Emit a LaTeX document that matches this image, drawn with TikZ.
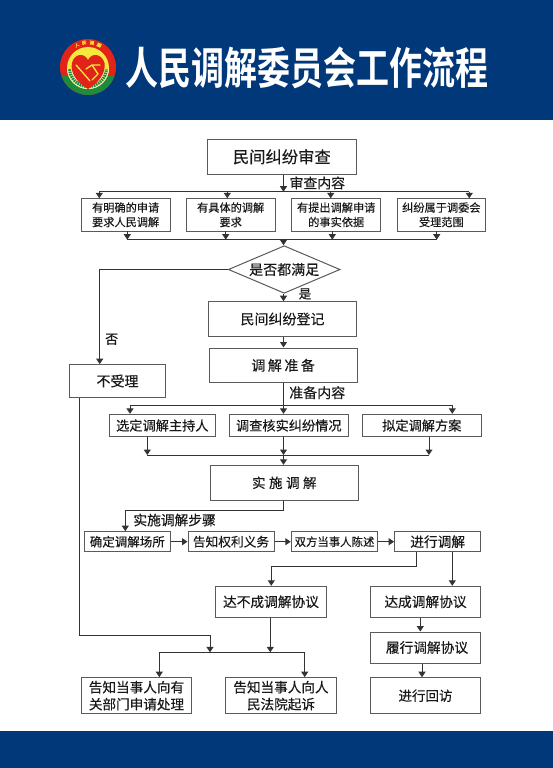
\documentclass[tikz,border=0pt]{standalone}
\usepackage{fontspec}
\setmainfont{Noto Sans CJK SC}[FakeBold=0.25]
\newfontfamily\titlefont{Noto Sans CJK SC Bold}
\usetikzlibrary{arrows.meta,shapes.geometric}
\definecolor{band}{HTML}{00387A}
\definecolor{edge}{HTML}{5A5A5A}
\definecolor{lred}{HTML}{E2231A}
\definecolor{lgreen}{HTML}{1F8A3C}
\definecolor{lyellow}{HTML}{F6E73C}
\tikzset{
  bx/.style={draw=edge,line width=1pt,fill=white,inner sep=0pt,align=center,text=black!90},
  ln/.style={draw=black!80,line width=1pt},
  ar/.style={ln,-{Triangle[length=5.5pt,width=7pt]}},
  lab/.style={inner sep=0pt,text=black!90},
}
\newcommand{\fs}[2]{\fontsize{#1}{#2}\selectfont}
% name, x1,y1,x2,y2, size, line height, text
\newcommand{\boxat}[8]{%
  \node[bx,font=\fs{#6}{#7},minimum width={#4-#2},minimum height={#5-#3}] (#1) at ({(#2+#4)/2},{(#3+#5)/2}) {#8};}
\begin{document}
\begin{tikzpicture}[x=1pt,y=-1pt]
\useasboundingbox (0,0) rectangle (553,768);
\fill[white] (0,0) rectangle (553,768);
\fill[band] (0,0) rectangle (553,119.5);
\fill[band] (0,731) rectangle (553,768);
% logo
\fill[lred] (88,67) circle (28);
\begin{scope}
\clip (58,76) rectangle (118,97);
\fill[lgreen] (88,67) circle (28);
\end{scope}
\fill[lyellow] (88,68) circle (21);
\begin{scope}
\clip (58,70) rectangle (118,97);
\fill[white!60!lyellow] (88,68) circle (21);
\draw[lgreen,line width=3pt,dash pattern=on 1.6pt off .8pt] (88,68) circle (18.5);
\end{scope}
\fill[lred] (88,89) .. controls (76,82) and (70,72) .. (72,63) .. controls (74,54) and (84,52) .. (88,60) .. controls (92,52) and (102,54) .. (104.5,63) .. controls (106,72) and (100,82) .. (88,89) -- cycle;
\draw[lyellow,line width=1.3pt,line cap=round,line join=round] (76,65) -- (84,74) -- (90,81) (100,65) -- (92,65) -- (86,69) (92,65) -- (98,74) -- (92,80);
\foreach \c/\a in {人/117,民/99,调/81,解/63}
  \node[inner sep=0pt,text=lyellow,font=\fs{4.5}{5},rotate=\a-90] (logo\a) at ({88+24.5*cos(\a)},{67-24.5*sin(\a)}) {\c};
% title
\node[inner sep=0pt,text=white,font=\titlefont\fs{44}{44},xscale=.75] (title) at (307,67.5) {人民调解委员会工作流程};
% boxes
\boxat{a}{207.7}{139.3}{356}{174.3}{16.3}{18}{民间纠纷审查}
\boxat{b1}{81.3}{198.3}{170}{231.3}{11.2}{14.5}{有明确的申请\\要求人民调解}
\boxat{b2}{186.3}{198.3}{275}{231.3}{11.2}{14.5}{有具体的调解\\要求}
\boxat{b3}{291.7}{198.3}{380.7}{231.3}{11.2}{14.5}{有提出调解申请\\的事实依据}
\boxat{b4}{397}{198.3}{485.7}{231.3}{11.2}{14.5}{纠纷属于调委会\\受理范围}
\node[diamond,aspect=2.34,draw=edge,line width=1pt,fill=white,inner sep=0pt,minimum width=111.7pt,minimum height=47.6pt,text=black!90,font=\fs{14}{16}] (d) at (284.2,269.5) {是否都满足};
\boxat{c}{208.3}{301.7}{356.7}{336.3}{14}{16}{民间纠纷登记}
\boxat{e}{209}{348}{357.3}{382.7}{14}{16}{调\hspace{2.5pt}解\hspace{2.5pt}准\hspace{2.5pt}备}
\boxat{no}{69.3}{364.7}{165.7}{397.3}{14}{16}{不受理}
\boxat{f1}{109.7}{414.3}{215}{436.7}{13.2}{16}{选定调解主持人}
\boxat{f2}{229.3}{414.3}{348.3}{436.7}{13.2}{16}{调查核实纠纷情况}
\boxat{f3}{362.3}{414.3}{481.3}{436.7}{13.2}{16}{拟定调解方案}
\boxat{g}{210.3}{465.3}{358.3}{500.3}{13.5}{16}{实\hspace{3.5pt}施\hspace{3.5pt}调\hspace{3.5pt}解}
\boxat{h1}{84.3}{531.7}{170.3}{551.7}{12.5}{16}{确定调解场所}
\boxat{h2}{188}{531.7}{274}{551.7}{12.7}{16}{告知权利义务}
\boxat{h3}{291.3}{531.7}{377.7}{551.7}{11.4}{16}{双方当事人陈述}
\boxat{h4}{394.7}{531.7}{480.7}{551.7}{13.7}{16}{进行调解}
\boxat{i1}{215.7}{586.3}{326.3}{617.3}{13.7}{16}{达不成调解协议}
\boxat{i2}{370.3}{586.3}{480.7}{617.3}{13.7}{16}{达成调解协议}
\boxat{j}{370.3}{632}{480.7}{663}{13.7}{16}{\hspace{3pt}履行调解协议}
\boxat{k1}{81.3}{677.7}{191.7}{713.7}{13.6}{17}{告知当事人向有\\关部门申请处理}
\boxat{k2}{225.7}{677.7}{336.3}{713.7}{13.6}{17}{告知当事人向人\\民法院起诉}
\boxat{k3}{370.3}{677.7}{480.7}{713.7}{13.5}{16}{进行回访}
% labels
\node[lab,anchor=west,font=\fs{13.9}{16}] (t1) at (289.3,183) {审查内容};
\node[lab,font=\fs{12.5}{14}] (t2) at (305,294) {是};
\node[lab,font=\fs{13}{14}] (t3) at (111.7,339.3) {否};
\node[lab,anchor=west,font=\fs{14}{16}] (t4) at (289,392.7) {准备内容};
\node[lab,anchor=west,font=\fs{13.7}{16}] (t5) at (133.3,520) {实施调解步骤};
% junctions
\coordinate (top1) at (283.5,191.7);
\draw[ar] (a.south -| top1) -- (top1);
\draw[ln] (99.3,191.7) -- (469.3,191.7);
\foreach \x in {99.3,227.3,330.7,469.3} \draw[ar] (\x,191.7) -- (\x,198.3);
\foreach \x in {127.3,225.7,332.3,436.7} \draw[ar] (\x,231.3) -- (\x,239.7);
\draw[ln] (127.3,239.7) -- (436.7,239.7);
\draw[ar] (283.5,239.7) -- (d.north -| 283.5,0);
\draw[ar] (d.south -| 283.5,0) -- (c.north -| 283.5,0);
\draw[ar] (d.west) -| (no.north -| 99.7,0);
\draw[ar] (c.south -| 283.5,0) -- (e.north -| 283.5,0);
\draw[ar] (e.south -| 283.5,0) -- (283.5,413.8);
\draw[ln] (130,405) -- (452.3,405);
\draw[ar] (130,405) -- (f1.north -| 130,0);
\draw[ar] (452.3,405) -- (f3.north -| 452.3,0);
\foreach \x in {147.3,283.5,429} \draw[ar] (\x,436.7) -- (\x,455);
\draw[ln] (147.3,455) -- (429,455);
\draw[ar] (283.5,455) -- (g.north -| 283.5,0);
\draw[ar] (g.south -| 283.5,0) -- (283.5,510.3) -- (125.3,510.3) -- (h1.north -| 125.3,0);
\draw[ar] (h1) -- (h2);
\draw[ar] (h2) -- (h3);
\draw[ar] (h3) -- (h4);
\draw[ar] (h4.south -| 416.7,0) -- (416.7,566.3) -- (271.3,566.3) -- (i1.north -| 271.3,0);
\draw[ar] (h4.south -| 452.3,0) -- (i2.north -| 452.3,0);
\draw[ar] (i2.south -| 420.3,0) -- (j.north -| 420.3,0);
\draw[ar] (j.south -| 422,0) -- (k3.north -| 422,0);
\draw[ar] (i1.south -| 270.3,0) -- (270.3,652.3);
\draw[ar] (no.south -| 79.7,0) -- (79.7,635.7) -- (210,635.7) -- (210,652.3);
\draw[ln] (159.3,652.3) -- (304.7,652.3);
\draw[ar] (159.3,652.3) -- (k1.north -| 159.3,0);
\draw[ar] (304.7,652.3) -- (k2.north -| 304.7,0);
\end{tikzpicture}
\end{document}
